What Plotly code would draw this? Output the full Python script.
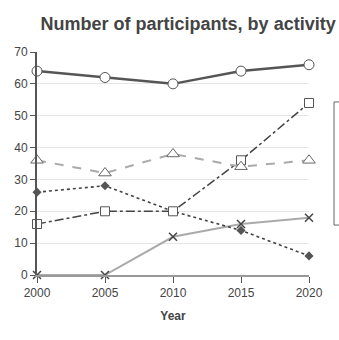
import plotly.graph_objects as go

years = [2000, 2005, 2010, 2015, 2020]
circle_vals = [64, 62, 60, 64, 66]
triangle_vals = [36, 32, 38, 34, 36]
square_vals = [16, 20, 20, 36, 54]
diamond_vals = [26, 28, 20, 14, 6]
cross_vals = [0, 0, 12, 16, 18]
y_ticks = [0, 10, 20, 30, 40, 50, 60, 70]

fig = go.Figure()

fig.add_trace(go.Scatter(x=years, y=cross_vals, mode="lines+markers", cliponaxis=False,
    line=dict(color="#aaaaaa", width=2),
    marker=dict(symbol="x-thin", size=8, line=dict(color="#444444", width=1.5))))
fig.add_trace(go.Scatter(x=years, y=diamond_vals, mode="lines+markers", cliponaxis=False,
    line=dict(color="#444444", width=1.6, dash="dot"),
    marker=dict(symbol="diamond", size=7, color="#555555")))
fig.add_trace(go.Scatter(x=years, y=square_vals, mode="lines+markers", cliponaxis=False,
    line=dict(color="#444444", width=1.5, dash="dashdot"),
    marker=dict(symbol="square", size=9, color="white", line=dict(color="#555555", width=1))))
fig.add_trace(go.Scatter(x=years, y=triangle_vals, mode="lines+markers", cliponaxis=False,
    line=dict(color="#aaaaaa", width=2, dash="dash"),
    marker=dict(symbol="triangle-up", size=11, color="white", line=dict(color="#666666", width=1))))
fig.add_trace(go.Scatter(x=years, y=circle_vals, mode="lines+markers", cliponaxis=False,
    line=dict(color="#555555", width=2.5),
    marker=dict(symbol="circle", size=10, color="white", line=dict(color="#555555", width=1))))

fig.add_shape(type="rect", xref="paper", yref="paper", x0=1.092, x1=1.3, y0=0.224, y1=0.776,
              line=dict(color="#666666", width=1), fillcolor="rgba(0,0,0,0)")

fig.update_layout(
    width=339, height=340,
    margin=dict(l=37, r=30, t=52, b=65),
    paper_bgcolor="white", plot_bgcolor="white",
    showlegend=False,
    font=dict(family="Liberation Sans, Arial, sans-serif", color="#444444"),
    title=dict(text="<b>Number of participants, by activity</b>", x=0.555, xanchor="center",
               y=0.93, yanchor="middle", font=dict(size=18, color="#444444")),
    xaxis=dict(range=[2000, 2020], tickvals=years, showgrid=False, zeroline=False,
               showline=True, linecolor="#999999", linewidth=2,
               ticks="outside", ticklen=6, tickcolor="#555555", tickwidth=1,
               tickfont=dict(size=12, color="#444444"),
               title=dict(text="<b>Year</b>", font=dict(size=12, color="#444444"), standoff=12)),
    yaxis=dict(range=[0, 70], tickvals=y_ticks, showgrid=True, gridcolor="#e6e6e6", gridwidth=1,
               zeroline=False, showline=True, linecolor="#555555", linewidth=2,
               ticks="outside", ticklen=5, tickcolor="#555555", tickwidth=1,
               tickfont=dict(size=12, color="#444444")),
)

fig.write_html("out.html")
